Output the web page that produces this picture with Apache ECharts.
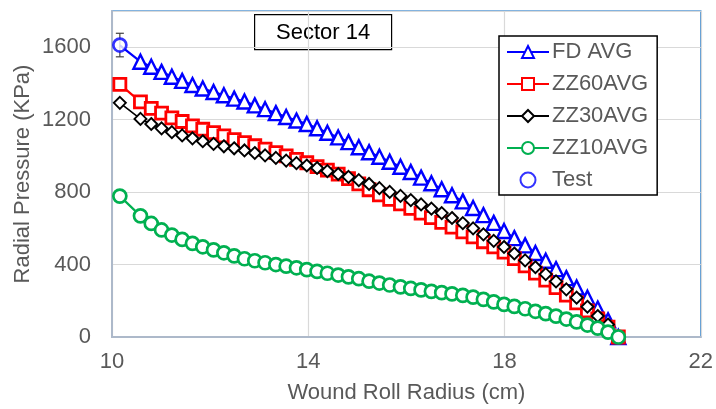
<!DOCTYPE html>
<html>
<head>
<meta charset="utf-8">
<script src="https://cdn.jsdelivr.net/npm/echarts@6/dist/echarts.min.js"></script>
<style>
  html, body { margin: 0; padding: 0; background: #ffffff; }
  #chart { width: 716px; height: 409px; }
</style>
</head>
<body>
<div id="chart"></div>
<script>
// Wound roll radius (cm) at each computed station
const radius = [10.16, 10.58, 10.80, 11.01, 11.22, 11.43, 11.64, 11.85, 12.07, 12.28,
  12.49, 12.70, 12.91, 13.12, 13.34, 13.55, 13.76, 13.97, 14.18, 14.39,
  14.61, 14.82, 15.03, 15.24, 15.45, 15.66, 15.88, 16.09, 16.30, 16.51,
  16.72, 16.93, 17.15, 17.36, 17.57, 17.78, 17.99, 18.20, 18.42, 18.63,
  18.84, 19.05, 19.26, 19.47, 19.69, 19.90, 20.11, 20.32];

// Radial pressure (kPa) per model
const fdAvg = [1610, 1520, 1492, 1464, 1437, 1414, 1391, 1372, 1353, 1335,
  1316, 1300, 1279, 1258, 1236, 1215, 1195, 1176, 1153, 1128,
  1102, 1076, 1048, 1020, 995, 968, 940, 911, 880, 849,
  816, 783, 749, 712, 673, 630, 585, 546, 506, 464,
  421, 375, 325, 273, 217, 157, 92, 0];
const zz60Avg = [1395, 1298, 1262, 1236, 1210, 1190, 1166, 1147, 1129, 1110,
  1090, 1073, 1056, 1037, 1018, 1000, 981, 962, 941, 921,
  899, 875, 845, 813, 785, 760, 735, 710, 684, 659,
  633, 607, 580, 553, 526, 498, 469, 433, 393, 353,
  314, 273, 231, 188, 144, 100, 55, 0];
const zz30Avg = [1293, 1204, 1176, 1152, 1131, 1113, 1097, 1081, 1066, 1053,
  1042, 1030, 1016, 1003, 989, 974, 960, 947, 933, 916,
  900, 884, 866, 845, 822, 801, 779, 756, 732, 709,
  684, 657, 629, 600, 567, 531, 497, 461, 423, 385,
  347, 307, 263, 217, 167, 116, 69, 0];
const zz10Avg = [778, 669, 627, 591, 563, 539, 517, 498, 481, 465,
  448, 432, 421, 410, 400, 391, 382, 372, 362, 352,
  342, 332, 322, 308, 298, 287, 277, 268, 260, 252,
  245, 238, 230, 220, 208, 194, 180, 169, 156, 142,
  129, 115, 99, 83, 66, 49, 27, 0];

// Measured value with its error range
const testRadius = [10.16];
const testPressure = [1612];
const testError = [65];

const xTicks = { min: 10, max: 22, step: 4 };
const yTicks = { min: 0, max: 1800, step: 400 };

const FONT = '"Liberation Sans", Arial, sans-serif';
const GREY = '#595959';
const FS = 22;

function pairs(xs, ys) { return xs.map((x, i) => [x, ys[i]]); }

function lineSeries(name, ys, color, symbol, size, lineW, borderW) {
  return {
    name: name,
    type: 'line',
    data: pairs(radius, ys),
    symbol: symbol,
    symbolSize: size,
    showAllSymbol: true,
    lineStyle: { color: color, width: lineW },
    itemStyle: { color: '#ffffff', borderColor: color, borderWidth: borderW },
    emphasis: { disabled: true },
    animation: false
  };
}

const fdSeries = lineSeries('FD AVG', fdAvg, '#0000ff', 'triangle', 14, 2.2, 2.4);
// the first FD station sits under the measured point
fdSeries.data[0] = { value: [radius[0], fdAvg[0]], symbol: 'none' };

const chart = echarts.init(document.getElementById('chart'), null, { renderer: 'canvas' });

chart.setOption({
  backgroundColor: '#ffffff',
  animation: false,
  textStyle: { fontFamily: FONT },
  grid: {
    left: 112, top: 11, right: 14, bottom: 72,
    show: true, borderColor: '#5b9bd5', borderWidth: 1.5, backgroundColor: 'transparent'
  },
  xAxis: {
    type: 'value',
    min: xTicks.min, max: xTicks.max, interval: xTicks.step,
    name: 'Wound Roll Radius (cm)',
    nameLocation: 'middle', nameGap: 45,
    nameTextStyle: { color: GREY, fontSize: FS, fontFamily: FONT },
    axisLine: { show: true, lineStyle: { color: '#adb9ca', width: 2 } },
    axisTick: { show: false },
    axisLabel: { color: GREY, fontSize: FS, fontFamily: FONT, margin: 14 },
    splitLine: { show: true, lineStyle: { color: '#d9d9d9', width: 1.2 } }
  },
  yAxis: {
    type: 'value',
    min: yTicks.min, max: yTicks.max, interval: yTicks.step,
    name: 'Radial Pressure (KPa)',
    nameLocation: 'middle', nameGap: 78,
    nameMoveOverlap: false,
    nameTextStyle: { color: GREY, fontSize: FS, fontFamily: FONT },
    axisLine: { show: true, lineStyle: { color: '#adb9ca', width: 2 } },
    axisTick: { show: false },
    axisLabel: {
      color: GREY, fontSize: FS, fontFamily: FONT, margin: 21, showMaxLabel: false,
      formatter: function (v) { return String(v); }
    },
    splitLine: { show: true, lineStyle: { color: '#d9d9d9', width: 1.2 } }
  },
  legend: {
    orient: 'vertical',
    left: 499, top: 36,
    padding: [5, 9, 4, 7],
    itemWidth: 42, itemHeight: 15, itemGap: 10,
    backgroundColor: '#ffffff',
    borderColor: '#000000', borderWidth: 1.5,
    textStyle: { color: GREY, fontSize: FS, fontFamily: FONT, lineHeight: 22, padding: [0, 0, 0, -2] },
    data: ['FD AVG', 'ZZ60AVG', 'ZZ30AVG', 'ZZ10AVG', 'Test']
  },
  graphic: [
    {
      type: 'group', left: 254, top: 14,
      children: [
        { type: 'rect', shape: { x: 0, y: 0, width: 137, height: 35 },
          style: { fill: '#ffffff', stroke: '#000000', lineWidth: 1.2 } },
        { type: 'text', x: 68.5, y: 18,
          style: { text: 'Sector 14', fill: '#000000', font: FS + 'px ' + FONT,
                   align: 'center', verticalAlign: 'middle' } }
      ]
    }
  ],
  series: [
    fdSeries,
    lineSeries('ZZ60AVG', zz60Avg, '#ff0000', 'rect', 12, 2.2, 2.8),
    lineSeries('ZZ30AVG', zz30Avg, '#000000', 'diamond', 12, 1.6, 1.9),
    lineSeries('ZZ10AVG', zz10Avg, '#00b050', 'circle', 13, 2.2, 2.7),
    {
      name: 'Test error',
      type: 'custom',
      data: testRadius.map((x, i) => [x, testPressure[i] - testError[i], testPressure[i] + testError[i]]),
      renderItem: function (params, api) {
        const lo = api.coord([api.value(0), api.value(1)]);
        const hi = api.coord([api.value(0), api.value(2)]);
        const cap = 4;
        const st = { stroke: '#404040', lineWidth: 1.2 };
        return {
          type: 'group',
          children: [
            { type: 'line', shape: { x1: lo[0], y1: lo[1], x2: hi[0], y2: hi[1] }, style: st },
            { type: 'line', shape: { x1: lo[0] - cap, y1: lo[1], x2: lo[0] + cap, y2: lo[1] }, style: st },
            { type: 'line', shape: { x1: hi[0] - cap, y1: hi[1], x2: hi[0] + cap, y2: hi[1] }, style: st }
          ]
        };
      },
      z: 3,
      silent: true,
      animation: false
    },
    {
      name: 'Test',
      type: 'scatter',
      data: pairs(testRadius, testPressure),
      symbol: 'circle',
      symbolSize: 13,
      itemStyle: { color: '#ffffff', borderColor: '#0000ff', borderWidth: 2.7 },
      z: 4,
      emphasis: { disabled: true },
      animation: false
    }
  ]
});
</script>
</body>
</html>
